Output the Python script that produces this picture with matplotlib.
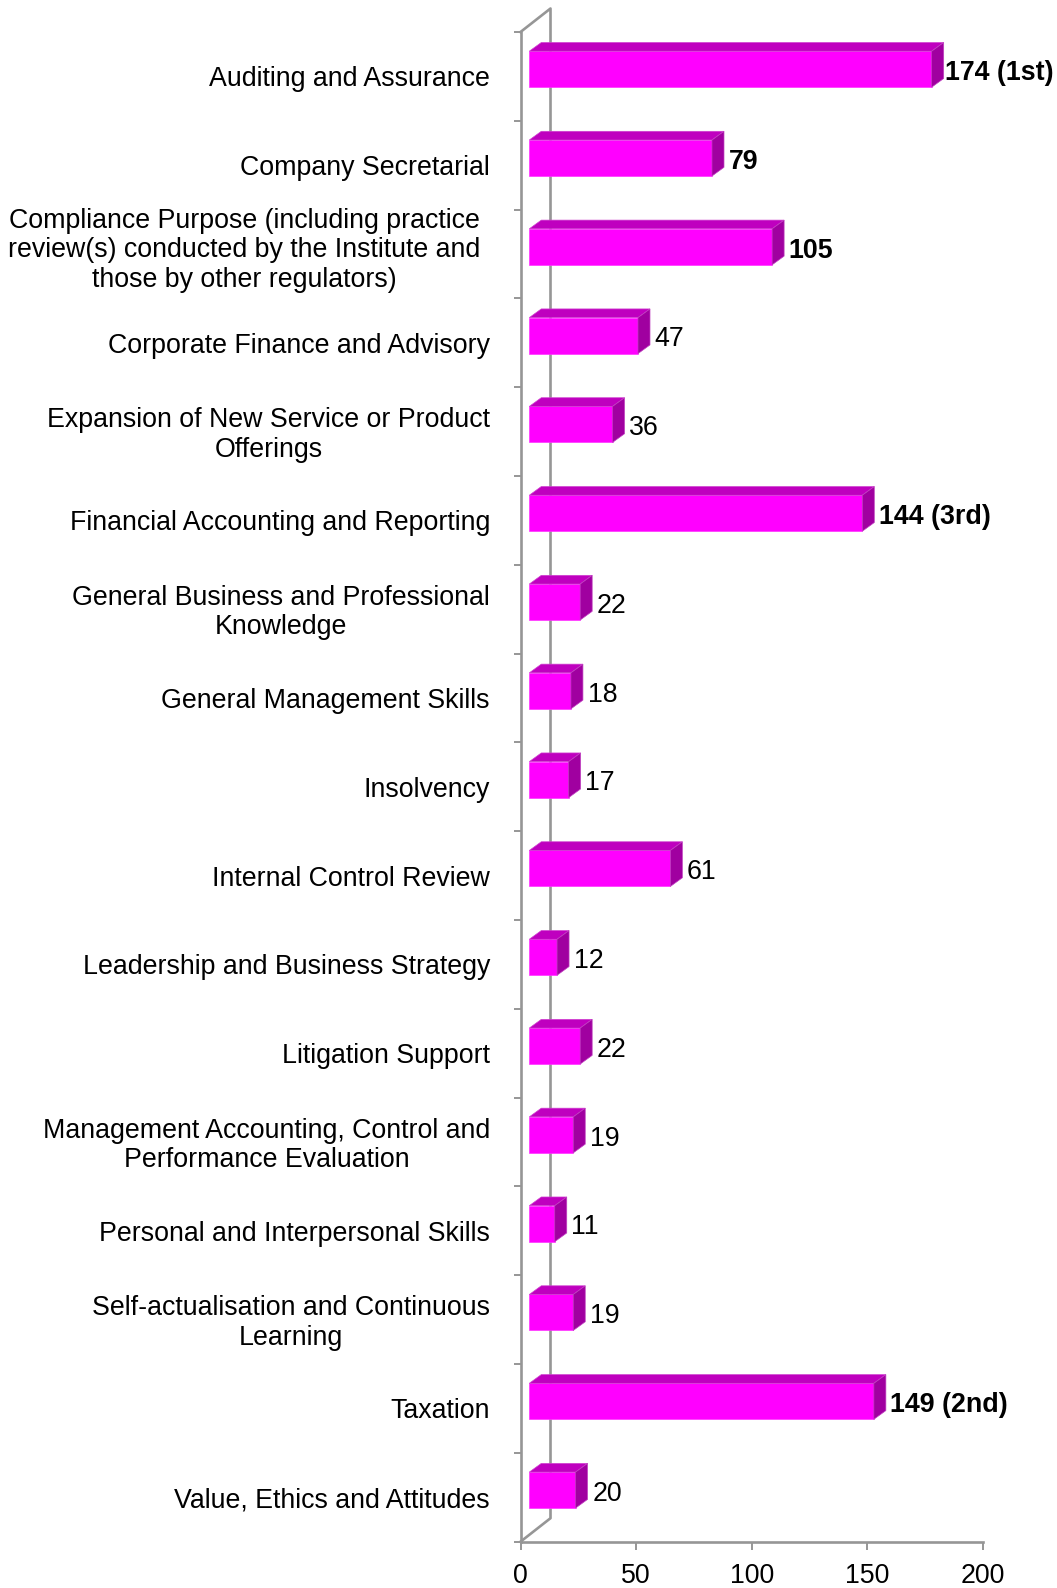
import matplotlib
matplotlib.use("Agg")
import matplotlib.pyplot as plt
from matplotlib.patches import Polygon
from matplotlib.transforms import ScaledTranslation

categories = [
    "Auditing and Assurance",
    "Company Secretarial",
    "Compliance Purpose (including practice\nreview(s) conducted by the Institute and\nthose by other regulators)",
    "Corporate Finance and Advisory",
    "Expansion of New Service or Product\nOfferings",
    "Financial Accounting and Reporting",
    "General Business and Professional\nKnowledge",
    "General Management Skills",
    "Insolvency",
    "Internal Control Review",
    "Leadership and Business Strategy",
    "Litigation Support",
    "Management Accounting, Control and\nPerformance Evaluation",
    "Personal and Interpersonal Skills",
    "Self-actualisation and Continuous\nLearning",
    "Taxation",
    "Value, Ethics and Attitudes",
]
values = [174, 79, 105, 47, 36, 144, 22, 18, 17, 61, 12, 22, 19, 11, 19, 149, 20]
value_labels = ["174 (1st)", "79", "105", "47", "36", "144 (3rd)", "22", "18", "17",
                "61", "12", "22", "19", "11", "19", "149 (2nd)", "20"]
bold_labels = ["174 (1st)", "79", "105", "144 (3rd)", "149 (2nd)"]
x_ticks = [0, 50, 100, 150, 200]

W, H = 1057, 1588
X0, X200, Y_TOP, Y_BOT = 520.5, 983.0, 32.0, 1541.7
GREY = "#969696"
FS = 19.3

px_x = (X200 - X0) / 200
px_y = (Y_BOT - Y_TOP) / 17

plt.rcParams["font.family"] = ["Liberation Sans", "DejaVu Sans"]
fig = plt.figure(figsize=(W / 100, H / 100), dpi=100)
ax = fig.add_axes([X0 / W, 1 - Y_BOT / H, (X200 - X0) / W, (Y_BOT - Y_TOP) / H])
ax.set_xlim(0, 200)
ax.set_ylim(17, 0)

for s in ["top", "right"]:
    ax.spines[s].set_visible(False)
for s in ["left", "bottom"]:
    ax.spines[s].set_color(GREY)
    ax.spines[s].set_linewidth(1.9)

ax.set_xticks(x_ticks)
ax.set_yticks(range(18))
ax.set_yticklabels([])
ax.tick_params(axis="x", length=6, width=1.4, color=GREY, labelsize=FS, pad=9)
ax.tick_params(axis="y", which="major", length=5, width=1.4, color=GREY)
ax.set_yticks([i + 0.5 for i in range(17)], minor=True)
ax.set_yticklabels(categories, minor=True, fontsize=FS, linespacing=1.17)
ax.tick_params(axis="y", which="minor", length=0, pad=22)
for lab in ax.get_yticklabels(minor=True):
    lab.set_multialignment("center")
    lines = lab.get_text().count("\n")
    if lines == 2:
        # the three line label sits up and left of its slot
        lab.set_transform(lab.get_transform() + ScaledTranslation(-9.5 / 100, 8.5 / 100, fig.dpi_scale_trans))
    elif lines == 1:
        lab.set_transform(lab.get_transform() + ScaledTranslation(0, 1.5 / 100, fig.dpi_scale_trans))

# side wall / floor of the 3d box
wall_x = 30 / px_x
wall_y = 23.5 / px_y
ax.plot([0, wall_x, wall_x, 0], [0, -wall_y, 17 - wall_y, 17], color=GREY, lw=1.9,
        clip_on=False, zorder=1)

# 3d bars
start = 8.8 / px_x
dx = 12 / px_x
dy = 8.7 / px_y
half = 18 / px_y
shift = -7.2 / px_y
text_drop = 3.8 / px_y
for i, v in enumerate(values):
    x1 = start
    x2 = start + v
    yt = i + 0.5 + shift - half
    yb = i + 0.5 + shift + half
    ax.add_patch(Polygon([(x1, yb), (x1, yt), (x2, yt), (x2, yb)], fc="#FF00FF",
                         ec="#FF33FF", lw=0.5, clip_on=False, zorder=3))
    ax.add_patch(Polygon([(x1, yt), (x1 + dx, yt - dy), (x2 + dx, yt - dy), (x2, yt)],
                         fc="#BF00BF", ec="#D040D0", lw=0.5, clip_on=False, zorder=3))
    ax.add_patch(Polygon([(x2, yt), (x2 + dx, yt - dy), (x2 + dx, yb - dy), (x2, yb)],
                         fc="#A000A0", ec="#C040C0", lw=0.5, clip_on=False, zorder=3))
    label = value_labels[i]
    gap = 0.4 if i == 0 else 2.0
    ax.text(x2 + dx + gap, i + 0.5 + shift + text_drop, label, va="center", ha="left", fontsize=FS,
            fontweight="bold" if label in bold_labels else "normal", color="black",
            clip_on=False, zorder=4)

fig.savefig("out.png", dpi=100)
plt.close(fig)
